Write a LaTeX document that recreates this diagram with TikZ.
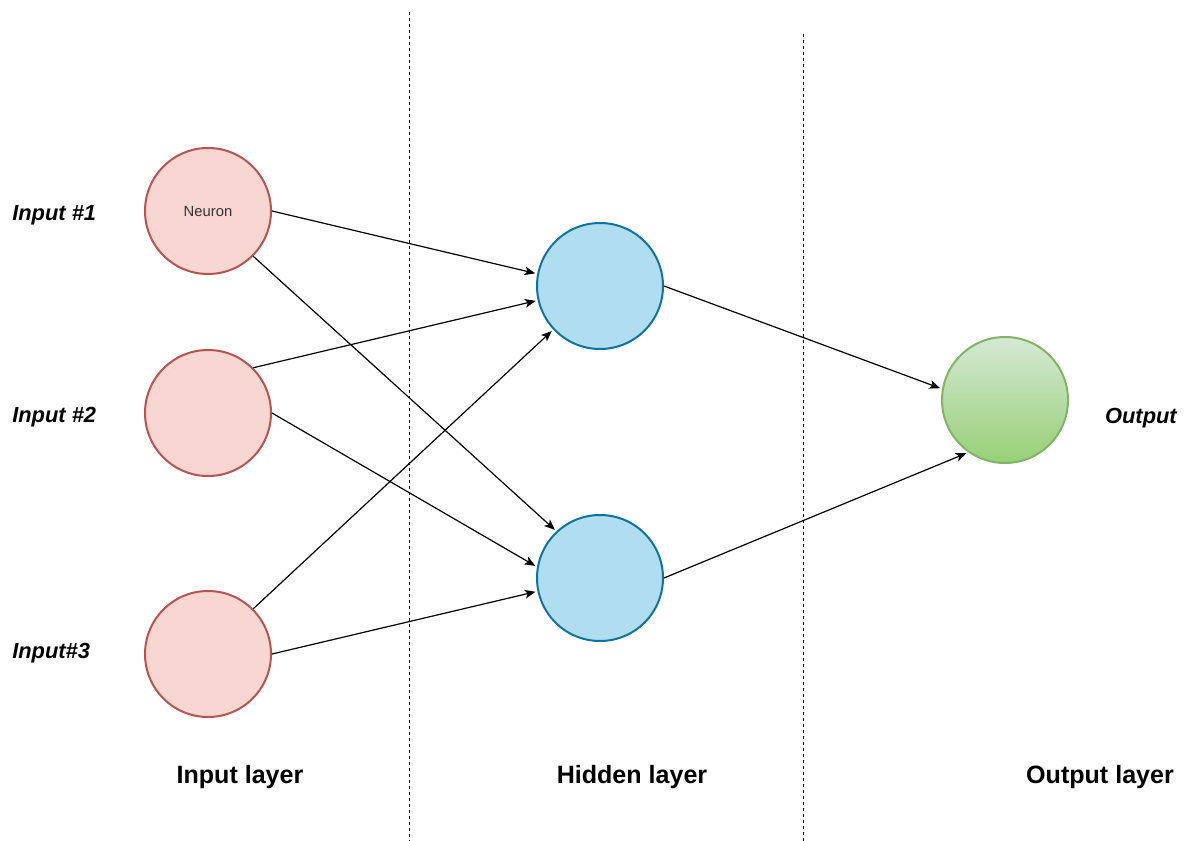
\documentclass[tikz,border=0pt]{standalone}
\usepackage{fontspec}
\setmainfont{Liberation Sans}
\usetikzlibrary{arrows.meta}
\definecolor{infill}{HTML}{F8D7D3}
\definecolor{indraw}{HTML}{B85450}
\definecolor{hidfill}{HTML}{B1DDF0}
\definecolor{hiddraw}{HTML}{10739E}
\definecolor{outtop}{HTML}{D5E8D4}
\definecolor{outbot}{HTML}{97D077}
\definecolor{outdraw}{HTML}{82B366}
\definecolor{neurontext}{HTML}{333333}
\tikzset{
  neuron/.style={circle, minimum size=94.5pt, inner sep=0pt, line width=1.5pt},
  inneuron/.style={neuron, draw=indraw, fill=infill},
  hidneuron/.style={neuron, draw=hiddraw, fill=hidfill},
  outneuron/.style={neuron, draw=outdraw, top color=outtop, bottom color=outbot},
  edge/.style={line width=0.9pt, shorten >=1.5pt, -{Stealth[length=8pt,width=6.5pt,inset=2pt]}},
  sep/.style={line width=0.75pt, dash pattern=on 2.25pt off 2.25pt},
  inlabel/.style={font=\fontsize{16.4pt}{19pt}\selectfont\bfseries\itshape, inner sep=0pt},
  layerlabel/.style={font=\fontsize{18.8pt}{22pt}\selectfont\bfseries, inner sep=0pt}
}
\begin{document}
\begin{tikzpicture}[x=0.75pt,y=-0.75pt]
\useasboundingbox (0,0) rectangle (1187,841);
% separators
\coordinate (s1t) at (409,12);
\coordinate (s1b) at (409,841);
\coordinate (s2t) at (803,34);
\coordinate (s2b) at (803,841);
\draw[sep] (s1t) -- (s1b);
\draw[sep] (s2t) -- (s2b);
% neurons
\node[inneuron] (i1) at (208,211) {\fontsize{11.1pt}{13pt}\selectfont\color{neurontext}Neuron};
\node[inneuron] (i2) at (208,413) {};
\node[inneuron] (i3) at (208,654) {};
\node[hidneuron] (h1) at (600,286) {};
\node[hidneuron] (h2) at (600,578) {};
\node[outneuron] (o) at (1005,400) {};
% edges
\draw[edge] (i1.0) -- (h1.169);
\draw[edge] (i1.-45) -- (h2.133);
\draw[edge] (i2.45) -- (h1.193);
\draw[edge] (i2.0) -- (h2.170);
\draw[edge] (i3.45) -- (h1.223);
\draw[edge] (i3.0) -- (h2.192);
\draw[edge] (h1.0) -- (o.170);
\draw[edge] (h2.0) -- (o.235);
% labels
\node[inlabel, anchor=west] (l1) at (12,215) {Input \#1};
\node[inlabel, anchor=west] (l2) at (12,417) {Input \#2};
\node[inlabel, anchor=west] (l3) at (12,653) {Input\#3};
\node[inlabel, anchor=east] (lo) at (1177,418) {Output};
\node[layerlabel] (la) at (240,777) {Input layer};
\node[layerlabel] (lb) at (632,777) {Hidden layer};
\node[layerlabel] (lc) at (1100,777) {Output layer};
\end{tikzpicture}
\end{document}
